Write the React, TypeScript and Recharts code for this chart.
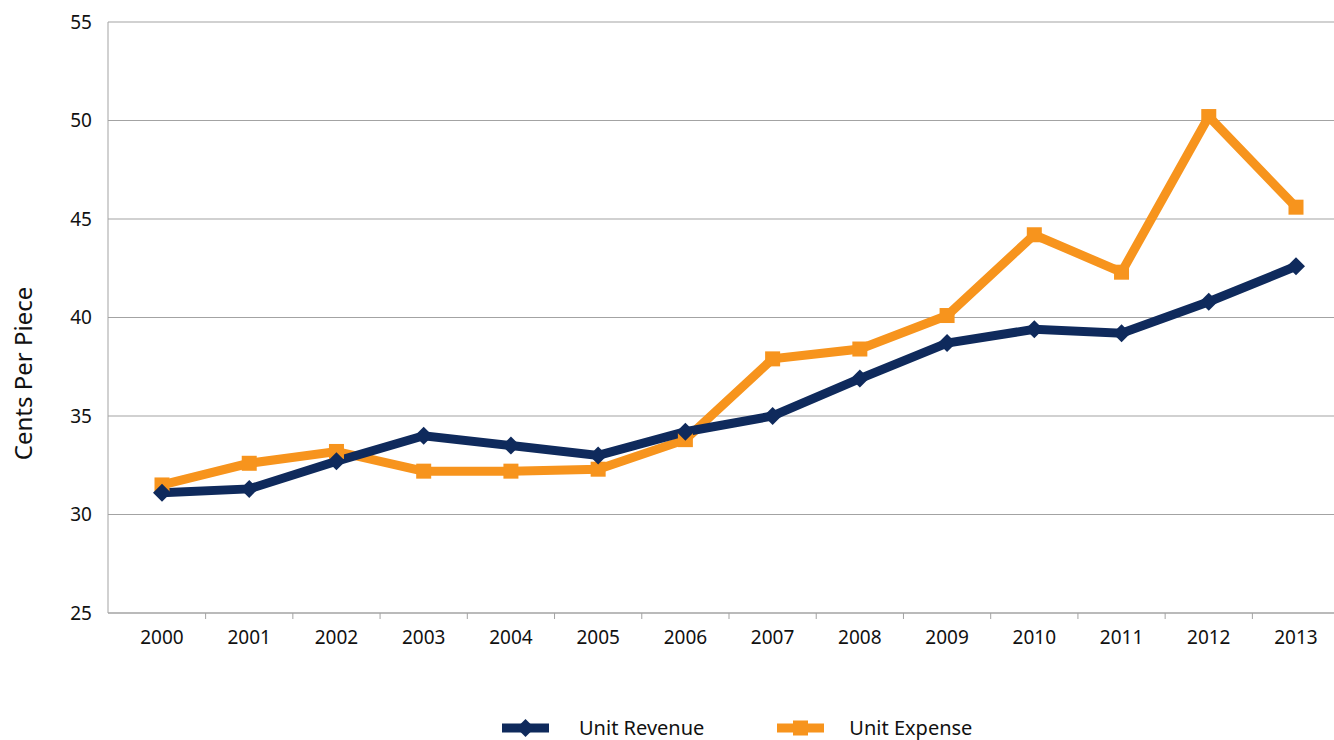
import React from "react";
import { LineChart, Line, XAxis, YAxis, CartesianGrid } from "recharts";

const years = ["2000", "2001", "2002", "2003", "2004", "2005", "2006", "2007", "2008", "2009", "2010", "2011", "2012", "2013"];
const unitRevenue = [31.1, 31.3, 32.7, 34.0, 33.5, 33.0, 34.2, 35.0, 36.9, 38.7, 39.4, 39.2, 40.8, 42.6];
const unitExpense = [31.5, 32.6, 33.2, 32.2, 32.2, 32.3, 33.8, 37.9, 38.4, 40.1, 44.2, 42.3, 50.2, 45.6];
const yTicks = [25, 30, 35, 40, 45, 50, 55];

const NAVY = "#0f2a5c";
const ORANGE = "#f7941d";
const GRID = "#a3a3a3";
const FONT = "'Noto Sans', sans-serif";

const data = years.map((year, i) => ({
  year,
  revenue: unitRevenue[i],
  expense: unitExpense[i],
}));

// plot spans 108..1340; point scale padded so categories sit in bands
const PAD_LEFT = 54;
const PAD_RIGHT = 44;
const HALF_BAND = (1232 - PAD_LEFT - PAD_RIGHT) / (years.length - 1) / 2;

const YearTick = (props: any) => {
  const { x, y, payload, index } = props;
  return (
    <g>
      {index < years.length - 1 && (
        <line x1={x + HALF_BAND} x2={x + HALF_BAND} y1={y} y2={y + 6} stroke={GRID} strokeWidth={1} />
      )}
      <text x={x} y={y + 31} textAnchor="middle" fill="#111" fontSize={19} fontFamily={FONT}>
        {payload.value}
      </text>
    </g>
  );
};

const Diamond = (props: any) => {
  const { cx, cy } = props;
  if (cx == null || cy == null) return null;
  return (
    <polygon
      points={`${cx},${cy - 9} ${cx + 9},${cy} ${cx},${cy + 9} ${cx - 9},${cy}`}
      fill={NAVY}
    />
  );
};

const Square = (props: any) => {
  const { cx, cy } = props;
  if (cx == null || cy == null) return null;
  return <rect x={cx - 7.5} y={cy - 7.5} width={15} height={15} fill={ORANGE} />;
};

const YLabel = (props: any) => {
  const { viewBox } = props;
  const x = 22;
  const y = viewBox.y + viewBox.height / 2 + 56;
  return (
    <text
      x={x}
      y={y}
      transform={`rotate(-90, ${x}, ${y})`}
      textAnchor="middle"
      dominantBaseline="central"
      fill="#111"
      fontSize={24}
      fontFamily={FONT}
    >
      Cents Per Piece
    </text>
  );
};

const LegendIcon = ({ color, shape }: { color: string; shape: "diamond" | "square" }) => (
  <svg width={47} height={20} style={{ display: "block" }}>
    <line x1={0} x2={47} y1={10} y2={10} stroke={color} strokeWidth={9} />
    {shape === "diamond" ? (
      <polygon points="23.5,1 32.5,10 23.5,19 14.5,10" fill={color} />
    ) : (
      <rect x={16} y={2.5} width={15} height={15} fill={color} />
    )}
  </svg>
);

export default function App() {
  return (
    <div
      style={{
        position: "absolute",
        left: 0,
        top: 0,
        width: 1334,
        height: 740,
        overflow: "hidden",
        background: "#fff",
      }}
    >
      <LineChart width={1342} height={740} data={data} margin={{ top: 22, right: 2, bottom: 97, left: 0 }}>
        <CartesianGrid vertical={false} stroke={GRID} strokeWidth={1} />
        <XAxis
          dataKey="year"
          height={30}
          padding={{ left: PAD_LEFT, right: PAD_RIGHT }}
          tickLine={false}
          tickSize={0}
          tickMargin={0}
          axisLine={{ stroke: GRID }}
          tick={<YearTick />}
          interval={0}
        />
        <YAxis
          width={108}
          domain={[25, 55]}
          ticks={yTicks}
          interval={0}
          tickLine={false}
          tickSize={0}
          tickMargin={16}
          axisLine={{ stroke: GRID }}
          tick={{ fill: "#111", fontSize: 19, fontFamily: FONT }}
          label={<YLabel />}
        />
        <Line
          dataKey="expense"
          name="Unit Expense"
          stroke={ORANGE}
          strokeWidth={9}
          strokeLinejoin="miter"
          dot={<Square />}
          activeDot={false}
          isAnimationActive={false}
        />
        <Line
          dataKey="revenue"
          name="Unit Revenue"
          stroke={NAVY}
          strokeWidth={9}
          strokeLinejoin="miter"
          dot={<Diamond />}
          activeDot={false}
          isAnimationActive={false}
        />
      </LineChart>
      <div
        style={{
          position: "absolute",
          left: 502,
          top: 716,
          display: "flex",
          alignItems: "center",
          fontFamily: FONT,
          fontSize: 20,
          color: "#111",
          lineHeight: "24px",
        }}
      >
        <LegendIcon color={NAVY} shape="diamond" />
        <span style={{ marginLeft: 30 }}>Unit Revenue</span>
        <span style={{ marginLeft: 73 }}>
          <LegendIcon color={ORANGE} shape="square" />
        </span>
        <span style={{ marginLeft: 25 }}>Unit Expense</span>
      </div>
    </div>
  );
}
